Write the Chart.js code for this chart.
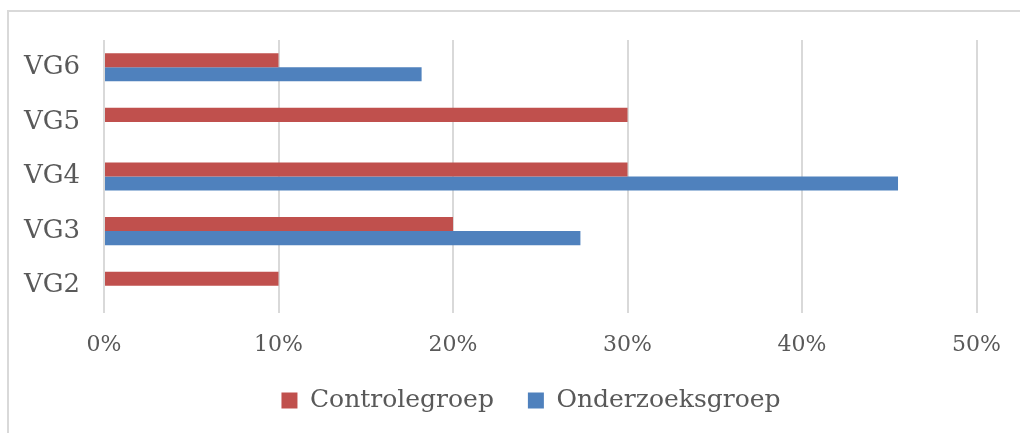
<!DOCTYPE html>
<html>
<head>
<meta charset="utf-8">
<script src="https://cdn.jsdelivr.net/npm/chart.js@4"></script>
<style>
    html, body { margin: 0; padding: 0; background: #fff; }
    #wrap { position: relative; width: 1020px; height: 433px; overflow: hidden; }
    #frame { position: absolute; left: 7px; top: 10px; width: 1100px; height: 500px; border: 2px solid #d9d9d9; box-sizing: border-box; }
    #holder { position: absolute; left: 0; top: 0; width: 1020px; height: 433px; }
</style>
</head>
<body>
<div id="wrap">
    <div id="frame"></div>
    <div id="holder"><canvas id="barChart" width="1020" height="433"></canvas></div>
</div>
<script>
let groups = ['VG6', 'VG5', 'VG4', 'VG3', 'VG2'];
let controleValues = [10, 30, 30, 20, 10];
let onderzoekValues = [18.2, 0, 45.5, 27.3, 0];
let xTicks = [0, 10, 20, 30, 40, 50];

let fontName = "'DejaVu Serif', serif";
Chart.defaults.font.family = fontName;
Chart.defaults.color = '#595959';

// legend sits a bit right of the canvas center, like in the original
let legendShift = {
    id: 'legendShift',
    afterLayout: function(chart) {
        chart.legend.left += 42;
        chart.legend.right += 42;
    }
};

var ctx = document.getElementById('barChart').getContext('2d');

var barChart = new Chart(ctx, {
    type: 'bar',
    data: {
        labels: groups,
        datasets: [{
            label: 'Controlegroep',
            data: controleValues,
            backgroundColor: '#C0504D'
        }, {
            label: 'Onderzoeksgroep',
            data: onderzoekValues,
            backgroundColor: '#4F81BD'
        }]
    },
    options: {
        indexAxis: 'y',
        responsive: false,
        animation: false,
        devicePixelRatio: 1,
        layout: {
            padding: { top: 40, right: 42, bottom: 10, left: 0 }
        },
        datasets: {
            bar: { categoryPercentage: 0.515, barPercentage: 1 }
        },
        scales: {
            x: {
                min: 0,
                max: 50,
                afterBuildTicks: function(scale) {
                    scale.ticks = xTicks.map(v => ({ value: v }));
                },
                afterFit: function(scale) { scale.height = 41; },
                grid: { color: '#d9d9d9', lineWidth: 2, drawTicks: false },
                border: { display: false },
                ticks: {
                    padding: 19,
                    font: { size: 22 },
                    callback: v => v + '%'
                }
            },
            y: {
                afterFit: function(scale) { scale.width = 104; },
                grid: { display: false },
                border: { display: false },
                ticks: { padding: 16, font: { size: 26 } }
            }
        },
        plugins: {
            legend: {
                position: 'bottom',
                labels: {
                    boxWidth: 16,
                    boxHeight: 16,
                    padding: 34,
                    font: { size: 25 }
                }
            },
            tooltip: { enabled: false }
        }
    },
    plugins: [legendShift]
});
</script>
</body>
</html>
